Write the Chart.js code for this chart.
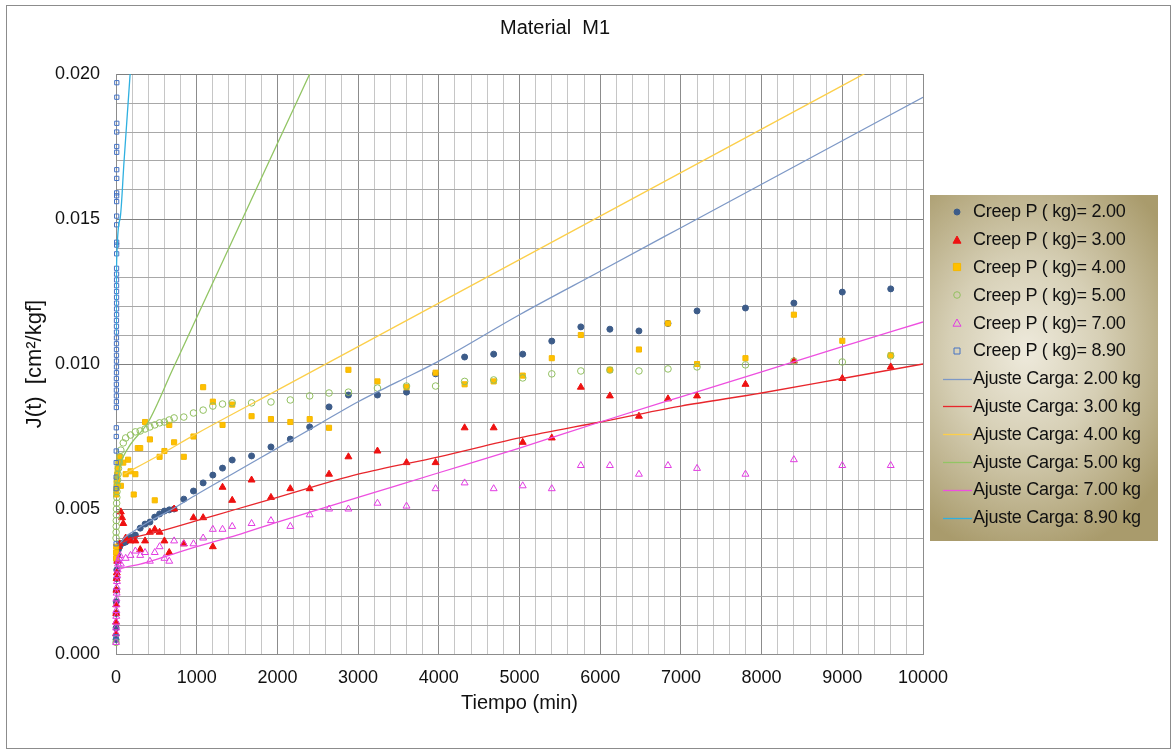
<!DOCTYPE html>
<html>
<head>
<meta charset="utf-8">
<script src="https://cdn.jsdelivr.net/npm/chart.js@4.4.0/dist/chart.umd.min.js"></script>
<style>
  body { margin: 0; background: #fff; font-family: "Liberation Sans", Arial, sans-serif; }
  #wrap { position: relative; width: 1176px; height: 751px; }
  #frame { position: absolute; left: 6px; top: 5px; width: 1163px; height: 742px; border: 1px solid #8c8c8c; pointer-events: none; }
  #title { position: absolute; left: 0; width: 1110px; top: 16px; text-align: center; font-size: 20px; color: #111; white-space: pre; }
  #legend {
    position: absolute; left: 930px; top: 195px; width: 228px; height: 346px; box-sizing: border-box; padding-top: 3px;
    background: radial-gradient(ellipse 75% 60% at 42% 45%, #eeeadc 0%, #d6cfb5 45%, #a99b6c 100%);
  }
  .row { display: flex; align-items: center; height: 27.8px; font-size: 18px; color: #111; letter-spacing: -0.25px; white-space: nowrap; }
  .row canvas { margin-left: 12px; margin-right: 1px; }
</style>
</head>
<body>
<div id="wrap">
  <canvas id="chart" width="1176" height="751"></canvas>
  <div id="title">Material  M1</div>
  <div id="legend"></div>
  <div id="frame"></div>
</div>
<script>
// creep readings, t in minutes, J in cm2/kgf
const t2 = [0.5, 1, 2, 3, 5, 8, 10, 15, 20, 30, 45, 60, 90, 120, 180, 240, 300, 360, 420, 480, 540, 600, 660, 720, 840, 960, 1080, 1200, 1320, 1440, 1680, 1920, 2160, 2400, 2640, 2880, 3240, 3600, 3960, 4320, 4680, 5040, 5400, 5760, 6120, 6480, 6840, 7200, 7800, 8400, 9000, 9600];
const j2 = [0.0005, 0.0009, 0.0014, 0.0018, 0.0022, 0.0026, 0.0029, 0.0032, 0.0034, 0.0036, 0.0037, 0.0038, 0.00383, 0.00386, 0.00403, 0.0041, 0.00434, 0.00448, 0.00455, 0.00472, 0.00483, 0.00493, 0.00497, 0.0050, 0.00534, 0.00562, 0.0059, 0.00617, 0.00641, 0.00669, 0.00683, 0.00714, 0.00741, 0.00783, 0.00852, 0.00893, 0.00893, 0.00903, 0.00966, 0.01024, 0.01034, 0.01034, 0.01079, 0.01128, 0.0112, 0.01114, 0.0114, 0.01183, 0.01193, 0.0121, 0.01248, 0.01259];

const t3 = [0.5, 1, 2, 3, 5, 8, 10, 15, 20, 30, 45, 60, 75, 90, 120, 180, 240, 300, 360, 420, 480, 540, 600, 660, 720, 840, 960, 1080, 1200, 1320, 1440, 1680, 1920, 2160, 2400, 2640, 2880, 3240, 3600, 3960, 4320, 4680, 5040, 5400, 5760, 6120, 6480, 6840, 7200, 7800, 8400, 9000, 9600];
const j3 = [0.0007, 0.0011, 0.0014, 0.0017, 0.0022, 0.0026, 0.0028, 0.0032, 0.0034, 0.0037, 0.0038, 0.0049, 0.0047, 0.0045, 0.0040, 0.0039, 0.0039, 0.0036, 0.0039, 0.0042, 0.0043, 0.0042, 0.0039, 0.0035, 0.0050, 0.0038, 0.0047, 0.0047, 0.0037, 0.00575, 0.0053, 0.0060, 0.0054, 0.0057, 0.0057, 0.0062, 0.0068, 0.0070, 0.0066, 0.0066, 0.0078, 0.0078, 0.0073, 0.00745, 0.0092, 0.0089, 0.0082, 0.0088, 0.0089, 0.0093, 0.0101, 0.0095, 0.0099];

const t4 = [0.5, 1, 2, 3, 5, 8, 10, 15, 20, 30, 45, 60, 90, 120, 150, 180, 220, 240, 270, 300, 360, 420, 480, 540, 600, 660, 720, 840, 960, 1080, 1200, 1320, 1440, 1680, 1920, 2160, 2400, 2640, 2880, 3240, 3600, 3960, 4320, 4680, 5040, 5400, 5760, 6120, 6480, 6840, 7200, 7800, 8400, 9000, 9600];
const j4 = [0.0033, 0.0035, 0.0037, 0.0055, 0.0057, 0.0059, 0.0060, 0.0062, 0.0064, 0.0066, 0.0068, 0.0058, 0.0066, 0.0062, 0.0067, 0.0063, 0.0055, 0.0062, 0.0071, 0.0071, 0.0080, 0.0074, 0.0053, 0.0068, 0.0070, 0.0079, 0.0073, 0.0068, 0.0075, 0.0092, 0.0087, 0.0079, 0.0086, 0.0082, 0.0081, 0.0080, 0.0081, 0.0078, 0.0098, 0.0094, 0.0092, 0.0097, 0.0093, 0.0094, 0.0096, 0.0102, 0.0110, 0.0098, 0.0105, 0.0114, 0.0100, 0.0102, 0.0117, 0.0108, 0.0103];

const t5 = [0.5, 1, 2, 3, 4, 5, 6, 8, 10, 12, 15, 20, 25, 30, 40, 50, 60, 90, 120, 180, 240, 300, 360, 420, 480, 540, 600, 660, 720, 840, 960, 1080, 1200, 1320, 1440, 1680, 1920, 2160, 2400, 2640, 2880, 3240, 3600, 3960, 4320, 4680, 5040, 5400, 5760, 6120, 6480, 6840, 7200, 7800, 8400, 9000, 9600];
const j5 = [0.0004, 0.0040, 0.0042, 0.0044, 0.0046, 0.0048, 0.0050, 0.0052, 0.0054, 0.0056, 0.0058, 0.0060, 0.0062, 0.0064, 0.0066, 0.0068, 0.00703, 0.00728, 0.00745, 0.00755, 0.00766, 0.00769, 0.00776, 0.00783, 0.0079, 0.00797, 0.0080, 0.00807, 0.00814, 0.00817, 0.00831, 0.00841, 0.00855, 0.00862, 0.00866, 0.00866, 0.00869, 0.00876, 0.0089, 0.0090, 0.00903, 0.00917, 0.00924, 0.00924, 0.0094, 0.00945, 0.00952, 0.00966, 0.00976, 0.00979, 0.00976, 0.00983, 0.0099, 0.00997, 0.0101, 0.01007, 0.01028];

const t7 = [0.5, 1, 1.5, 2, 3, 4, 5, 6, 8, 10, 12, 15, 20, 25, 30, 40, 50, 60, 120, 180, 240, 300, 360, 420, 480, 540, 600, 660, 720, 840, 960, 1080, 1200, 1320, 1440, 1680, 1920, 2160, 2400, 2640, 2880, 3240, 3600, 3960, 4320, 4680, 5040, 5400, 5760, 6120, 6480, 6840, 7200, 7800, 8400, 9000, 9600];
const j7 = [0.0004, 0.0007, 0.0009, 0.0011, 0.0013, 0.0015, 0.0017, 0.0019, 0.0021, 0.0023, 0.0025, 0.0027, 0.0029, 0.0031, 0.0032, 0.0033, 0.0034, 0.0031, 0.0033, 0.0034, 0.00355, 0.0034, 0.0035, 0.0032, 0.0035, 0.0037, 0.0033, 0.0032, 0.0039, 0.0038, 0.0038, 0.0040, 0.0043, 0.0043, 0.0044, 0.0045, 0.0046, 0.0044, 0.0048, 0.0050, 0.0050, 0.0052, 0.0051, 0.0057, 0.0059, 0.0057, 0.0058, 0.0057, 0.0065, 0.0065, 0.0062, 0.0065, 0.0064, 0.0062, 0.0067, 0.0065, 0.0065];

const t89 = [0.5, 1, 1.5, 2, 2.5, 3, 3.5, 4, 4.5, 5, 5, 5, 5, 5, 6, 6, 6, 6, 6, 6, 6, 6, 6, 6, 7, 7, 7, 7, 7, 7, 7, 7, 7, 8, 8, 8, 8, 8, 8, 8, 8, 9, 9, 9, 9, 9, 10, 10, 10];
const j89 = [0.0006, 0.0038, 0.0057, 0.0061, 0.0066, 0.0070, 0.0075, 0.0078, 0.0085, 0.0087, 0.0089, 0.0091, 0.0093, 0.0095, 0.0097, 0.0099, 0.0101, 0.0103, 0.0105, 0.0107, 0.0109, 0.0111, 0.0113, 0.0115, 0.0117, 0.0119, 0.0121, 0.0123, 0.0125, 0.0127, 0.0129, 0.0131, 0.0133, 0.0138, 0.0141, 0.0142, 0.0148, 0.0151, 0.0156, 0.0158, 0.0159, 0.0164, 0.0167, 0.0173, 0.0175, 0.0180, 0.0183, 0.0192, 0.0197];

// fitted curves
const fitT2 = [50, 100, 200, 400, 700, 1000, 1500, 2000, 2500, 3000, 3500, 4000, 5000, 6000, 7000, 8000, 9000, 10000];
const fitJ2 = [0.0038, 0.0040, 0.0042, 0.00455, 0.0050, 0.0055, 0.0063, 0.0071, 0.0079, 0.0087, 0.0094, 0.0101, 0.0117, 0.0132, 0.0147, 0.0162, 0.0177, 0.0192];
const fitT3 = [50, 200, 500, 1000, 1500, 2000, 3000, 4000, 5000, 6000, 7000, 8000, 9000, 10000];
const fitJ3 = [0.0038, 0.0040, 0.0042, 0.0046, 0.0050, 0.0054, 0.0062, 0.0068, 0.00745, 0.0080, 0.00855, 0.0090, 0.0095, 0.0100];
const fitT4 = [100, 500, 1000, 2000, 3000, 4000, 5000, 6000, 7000, 8000, 9000, 9300];
const fitJ4 = [0.0062, 0.0068, 0.0076, 0.0091, 0.0106, 0.0121, 0.0136, 0.0151, 0.0166, 0.0181, 0.0196, 0.02005];
const fitT5 = [5, 50, 150, 400, 700, 1000, 1500, 2000, 2450];
const fitJ5 = [0.0058, 0.0065, 0.0071, 0.0080, 0.0098, 0.0116, 0.0146, 0.0176, 0.0203];
const fitT7 = [20, 100, 300, 600, 1000, 1500, 2000, 3000, 4000, 5000, 6000, 7000, 8000, 9000, 10000];
const fitJ7 = [0.0029, 0.00298, 0.0031, 0.00335, 0.0037, 0.0041, 0.00455, 0.0054, 0.00625, 0.0071, 0.0080, 0.00887, 0.00973, 0.0106, 0.01145];
const fitT89 = [2, 5, 50, 100, 180];
const fitJ89 = [0.0110, 0.0132, 0.0150, 0.0170, 0.0202];

const creepLabels = ["Creep P ( kg)= 2.00", "Creep P ( kg)= 3.00", "Creep P ( kg)= 4.00", "Creep P ( kg)= 5.00", "Creep P ( kg)= 7.00", "Creep P ( kg)= 8.90"];
const fitLabels = ["Ajuste Carga: 2.00 kg", "Ajuste Carga: 3.00 kg", "Ajuste Carga: 4.00 kg", "Ajuste Carga: 5.00 kg", "Ajuste Carga: 7.00 kg", "Ajuste Carga: 8.90 kg"];

const xTicksMax = 10000;
const yTicksMax = 0.02;

function pts(ts, js) {
  return ts.map((t, i) => ({ x: t, y: js[i] }));
}

const pointStyles = [
  { style: "circle", r: 3, fill: "#3d5c89", stroke: "#3d5c89" },
  { style: "triangle", r: 4, fill: "#ee1111", stroke: "#ee1111" },
  { style: "rect", r: 3.6, fill: "#ffc000", stroke: "#f5b800" },
  { style: "circle", r: 3.3, fill: "rgba(0,0,0,0)", stroke: "#92c060" },
  { style: "triangle", r: 4, fill: "rgba(0,0,0,0)", stroke: "#e23ce2" },
  { style: "rect", r: 3, fill: "rgba(0,0,0,0)", stroke: "#4472c4" }
];
const fitColors = ["#7d98c6", "#e8262c", "#fccf4a", "#92c564", "#ee4fe0", "#2fb0e0"];

const creepData = [pts(t2, j2), pts(t3, j3), pts(t4, j4), pts(t5, j5), pts(t7, j7), pts(t89, j89)];
const fitData = [pts(fitT2, fitJ2), pts(fitT3, fitJ3), pts(fitT4, fitJ4), pts(fitT5, fitJ5), pts(fitT7, fitJ7), pts(fitT89, fitJ89)];

const datasets = [];
creepData.forEach((data, i) => {
  const s = pointStyles[i];
  datasets.push({
    label: creepLabels[i],
    data: data,
    showLine: false,
    clip: false,
    pointStyle: s.style,
    pointRadius: s.r,
    pointBackgroundColor: s.fill,
    pointBorderColor: s.stroke,
    pointBorderWidth: 1,
    order: 12 - i
  });
});
fitData.forEach((data, i) => {
  datasets.push({
    label: fitLabels[i],
    data: data,
    showLine: true,
    borderColor: fitColors[i],
    borderWidth: 1.3,
    pointRadius: 0,
    cubicInterpolationMode: "monotone",
    order: 6 - i
  });
});

const tickFont = { family: "'Liberation Sans', Arial, sans-serif", size: 18 };

new Chart(document.getElementById("chart"), {
  type: "scatter",
  data: { datasets: datasets },
  options: {
    responsive: false,
    animation: false,
    layout: { padding: { left: 0, top: 74, right: 253, bottom: 0 } },
    plugins: { legend: { display: false }, tooltip: { enabled: false } },
    scales: {
      x: {
        type: "linear",
        min: 0,
        max: xTicksMax,
        afterFit: (s) => { s.height = 97; },
        ticks: {
          stepSize: 200,
          autoSkip: false,
          maxRotation: 0,
          padding: 13,
          color: "#111",
          font: tickFont,
          callback: (v) => (v % 1000 === 0 ? String(v) : "")
        },
        grid: {
          drawTicks: false,
          color: (ctx) => (ctx.tick && ctx.tick.value % 1000 === 0 ? "#8c8c8c" : "#c6c6c6"),
          lineWidth: 1
        },
        border: { color: "#8c8c8c" },
        title: {
          display: true,
          text: "Tiempo (min)",
          color: "#111",
          font: { family: tickFont.family, size: 20 },
          padding: { bottom: 36 }
        }
      },
      y: {
        type: "linear",
        min: 0,
        max: yTicksMax,
        afterFit: (s) => { s.width = 116; },
        ticks: {
          stepSize: 0.001,
          autoSkip: false,
          padding: 16,
          color: "#111",
          font: tickFont,
          callback: (v) => (Math.round(v * 1000) % 5 === 0 ? v.toFixed(3) : "")
        },
        grid: {
          drawTicks: false,
          color: (ctx) => (ctx.tick && Math.round(ctx.tick.value * 1000) % 5 === 0 ? "#7f7f7f" : "#a8a8a8"),
          lineWidth: 1
        },
        border: { color: "#8c8c8c" },
        title: {
          display: true,
          text: "J(t)  [cm²/kgf]",
          color: "#111",
          font: { family: tickFont.family, size: 22 },
          padding: { top: 22 }
        }
      }
    }
  }
});

// html legend
function drawMarker(cv, ds) {
  const c = cv.getContext("2d");
  const cx = 15, cy = 10;
  if (ds.showLine) {
    c.strokeStyle = ds.borderColor;
    c.lineWidth = 1.3;
    c.beginPath(); c.moveTo(1, cy + 0.5); c.lineTo(30, cy + 0.5); c.stroke();
    return;
  }
  const r = ds.pointRadius;
  c.fillStyle = ds.pointBackgroundColor;
  c.strokeStyle = ds.pointBorderColor;
  c.lineWidth = 1;
  c.beginPath();
  if (ds.pointStyle === "circle") {
    c.arc(cx, cy, r, 0, Math.PI * 2);
  } else if (ds.pointStyle === "triangle") {
    c.moveTo(cx, cy - r); c.lineTo(cx + r, cy + r * 0.8); c.lineTo(cx - r, cy + r * 0.8); c.closePath();
  } else {
    c.rect(cx - r, cy - r, r * 2, r * 2);
  }
  c.fill(); c.stroke();
}

const legendEl = document.getElementById("legend");
datasets.forEach((ds) => {
  const row = document.createElement("div");
  row.className = "row";
  const cv = document.createElement("canvas");
  cv.width = 30; cv.height = 20;
  drawMarker(cv, ds);
  const span = document.createElement("span");
  span.textContent = ds.label;
  row.appendChild(cv);
  row.appendChild(span);
  legendEl.appendChild(row);
});
</script>
</body>
</html>
